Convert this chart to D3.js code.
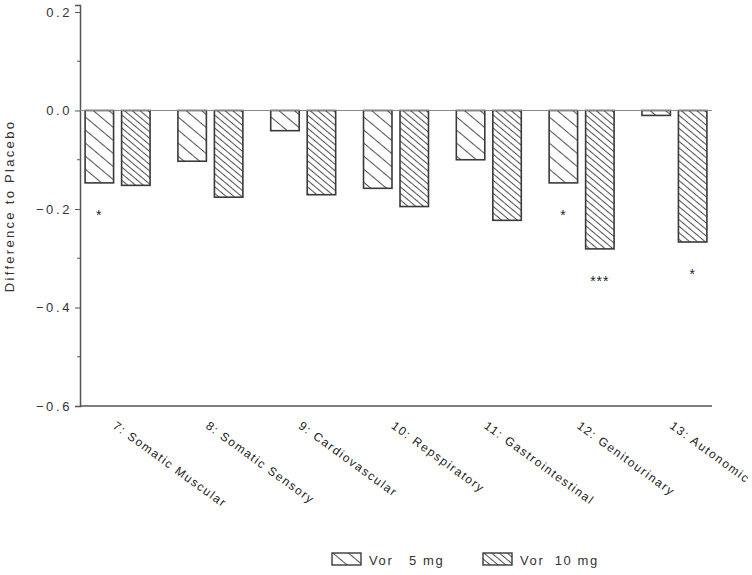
<!DOCTYPE html>
<html>
<head>
<meta charset="utf-8">
<script src="https://cdn.jsdelivr.net/npm/d3@7"></script>
<style>
  body { margin: 0; background: #fff; }
  svg { display: block; font-family: "Liberation Sans", Arial, sans-serif; }
</style>
</head>
<body>
<svg width="752" height="575"></svg>
<script>
// categories and values
var categories = ["7: Somatic Muscular", "8: Somatic Sensory", "9: Cardiovascular",
  "10: Repspiratory", "11: Gastrointestinal", "12: Genitourinary", "13: Autonomic"];
var series = ["Vor   5 mg", "Vor  10 mg"];
var vor5 = [-0.147, -0.103, -0.041, -0.158, -0.100, -0.147, -0.010];
var vor10 = [-0.152, -0.176, -0.171, -0.195, -0.223, -0.281, -0.267];
var sig5 = ["*", "", "", "", "", "*", ""];
var sig10 = ["", "", "", "", "", "***", "*"];
var yTicks = [0.2, 0.0, -0.2, -0.4, -0.6];
var yMinor = [0.1, -0.1, -0.3, -0.5];

var svg = d3.select("svg");

var x0 = d3.scaleBand()
  .domain(categories)
  .range([80, 712])
  .paddingInner(0.3)
  .paddingOuter(0.055);

var x1 = d3.scaleBand()
  .domain(series)
  .range([0, x0.bandwidth()])
  .paddingInner(0.22);

var y = d3.scaleLinear()
  .domain([-0.6, 0.2142])
  .range([406, 5]);

// hatch patterns
var defs = svg.append("defs");
function hatch(id, gap) {
  var p = defs.append("pattern")
    .attr("id", id)
    .attr("patternUnits", "userSpaceOnUse")
    .attr("width", gap)
    .attr("height", gap)
    .attr("patternTransform", "rotate(-50)");
  p.append("rect").attr("width", gap).attr("height", gap).attr("fill", "#fff");
  p.append("line")
    .attr("x1", 0.5).attr("y1", 0)
    .attr("x2", 0.5).attr("y2", gap)
    .attr("stroke", "#555")
    .attr("stroke-width", 1.1);
}
hatch("h5", 10);
hatch("h10", 5);
var fills = {"Vor   5 mg": "url(#h5)", "Vor  10 mg": "url(#h10)"};

// y axis
var yAxis = d3.axisLeft(y)
  .tickValues(yTicks)
  .tickSize(5)
  .tickFormat(d3.format(".1f"));

var ga = svg.append("g")
  .attr("transform", "translate(80,0)")
  .call(yAxis);
ga.select(".domain").attr("stroke", "#555").attr("stroke-width", 1.5);
ga.selectAll(".tick line").attr("stroke", "#555");
ga.selectAll(".tick text")
  .attr("font-size", 13)
  .attr("letter-spacing", "2.6px")
  .attr("fill", "#333")
  .attr("x", -8);

ga.selectAll(".minor")
  .data(yMinor)
  .join("line")
  .attr("x1", -3).attr("x2", 0)
  .attr("y1", d => y(d)).attr("y2", d => y(d))
  .attr("stroke", "#555");

// bottom line
svg.append("line")
  .attr("x1", 80).attr("x2", 712)
  .attr("y1", y(-0.6)).attr("y2", y(-0.6))
  .attr("stroke", "#555").attr("stroke-width", 1.5);

// bars
var rows = categories.map((c, i) => ({
  cat: c,
  vals: [
    {s: series[0], v: vor5[i], sig: sig5[i]},
    {s: series[1], v: vor10[i], sig: sig10[i]}
  ]
}));

var grp = svg.append("g")
  .selectAll("g")
  .data(rows)
  .join("g")
  .attr("transform", d => `translate(${x0(d.cat)},0)`);

grp.selectAll("rect")
  .data(d => d.vals)
  .join("rect")
  .attr("x", d => x1(d.s))
  .attr("width", x1.bandwidth())
  .attr("y", y(0))
  .attr("height", d => y(d.v) - y(0))
  .attr("fill", d => fills[d.s])
  .attr("stroke", "#3a3a3a")
  .attr("stroke-width", 1.6);

grp.selectAll("text.sig")
  .data(d => d.vals.filter(v => v.sig))
  .join("text")
  .attr("class", "sig")
  .attr("x", d => x1(d.s) + x1.bandwidth() / 2)
  .attr("y", d => y(d.v) + 37)
  .attr("text-anchor", "middle")
  .attr("font-size", 14)
  .attr("letter-spacing", "1px")
  .attr("fill", "#222")
  .text(d => d.sig);

// zero line
svg.append("line")
  .attr("x1", 80).attr("x2", 712)
  .attr("y1", y(0)).attr("y2", y(0))
  .attr("stroke", "#888").attr("stroke-width", 1);

// category labels
svg.append("g")
  .selectAll("text")
  .data(categories)
  .join("text")
  .attr("transform", d => `translate(${x0(d) + x0.bandwidth() / 2 - 3},${424}) rotate(36)`)
  .attr("font-size", 12)
  .attr("letter-spacing", "1.5px")
  .attr("fill", "#222")
  .attr("dy", "0.35em")
  .text(d => d);

// y label
svg.append("text")
  .attr("transform", "translate(14,206) rotate(-90)")
  .attr("text-anchor", "middle")
  .attr("font-size", 13)
  .attr("letter-spacing", "2.3px")
  .attr("fill", "#333")
  .text("Difference to Placebo");

// legend
var legX = [332, 483];
var leg = svg.append("g")
  .selectAll("g")
  .data(series)
  .join("g")
  .attr("transform", (d, i) => `translate(${legX[i]},553)`);
leg.append("rect")
  .attr("width", 29).attr("height", 12)
  .attr("fill", d => fills[d])
  .attr("stroke", "#3a3a3a")
  .attr("stroke-width", 1.4);
leg.append("text")
  .attr("x", 37).attr("y", 11.5)
  .attr("font-size", 13)
  .attr("letter-spacing", "1.6px")
  .attr("fill", "#333")
  .style("white-space", "pre")
  .text(d => d);
</script>
</body>
</html>
